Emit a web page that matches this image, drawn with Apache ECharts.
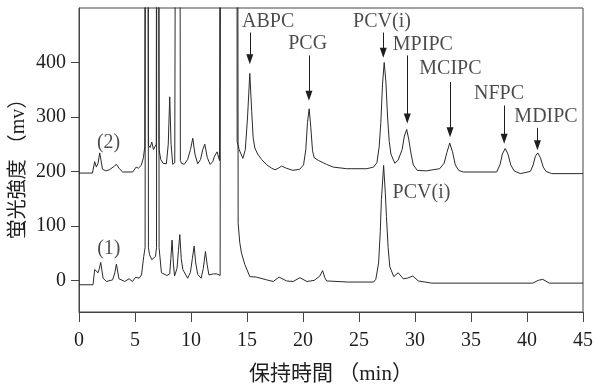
<!DOCTYPE html>
<html>
<head>
<meta charset="utf-8">
<script src="https://cdn.jsdelivr.net/npm/echarts@6/dist/echarts.min.js"></script>
<style>
  html, body { margin: 0; padding: 0; background: #fff; }
  #chart { width: 594px; height: 389px; }
</style>
</head>
<body>
<div id="chart"></div>
<script>
// 保持時間 (min) / 蛍光強度 (mv)
const yTickValues = [0, 100, 200, 300, 400]

// (1) 下側クロマトグラム
const trace1 = [
  [0, -8], [1.25, -8], [1.4, 20], [1.55, 23], [1.7, 14], [1.82, 22], [1.94, 33], [2.15, 4],
  [2.45, -2], [3.0, 1], [3.2, 14], [3.34, 30], [3.57, 3], [4.08, -2], [4.47, 3], [4.77, -2],
  [5.07, 6], [5.37, 4], [5.58, 10], [5.78, 44], [5.9, 60], [6.05, 3000], [6.2, 60], [6.3, 47],
  [6.5, 38], [6.62, 41], [6.83, 44], [6.92, 60], [7.03, 3000], [7.15, 60], [7.36, 14],
  [7.85, 9], [8.1, 12], [8.2, 40], [8.31, 74], [8.43, 30], [8.53, 8], [8.75, 22], [8.88, 55],
  [9.0, 84], [9.13, 40], [9.27, 20], [9.7, 4], [9.95, 15], [10.12, 40], [10.28, 63],
  [10.42, 32], [10.6, 11], [10.9, 4], [11.1, 22], [11.29, 53], [11.45, 28], [11.6, 10],
  [12.0, 12], [12.3, 12], [12.6, 9], [12.72, 10], [12.75, 3000], [14.05, 3000], [14.21, 105],
  [14.35, 70], [14.51, 50], [14.81, 29], [15.25, 7], [15.85, 6], [16.75, 1], [17.34, -2],
  [17.87, 6], [18.53, -1], [19.12, -2], [19.72, 5], [20.35, -2], [21.0, 0], [21.5, 8],
  [21.75, 18], [21.95, 5], [22.11, -1], [24, -3], [26.3, -3], [26.5, 2], [26.75, 32],
  [26.9, 90], [27.0, 148], [27.2, 211], [27.35, 160], [27.45, 117], [27.6, 60], [27.75, 25],
  [28.1, 7], [28.5, 14], [28.95, 3], [29.3, 4], [29.8, 8], [30.3, -1], [31.5, -5],
  [40.5, -5], [41.0, 0], [41.4, 2], [42.0, -5], [45, -5]
]

// (2) 上側クロマトグラム
const trace2 = [
  [0, 197], [1.2, 197], [1.4, 218], [1.55, 208], [1.7, 215], [1.85, 234], [2.1, 204],
  [2.4, 201], [2.7, 203], [3.05, 208], [3.35, 213], [3.6, 205], [3.9, 199], [4.8, 199],
  [5.1, 208], [5.3, 206], [5.55, 211], [5.75, 225], [5.87, 245], [6.05, 3000], [6.2, 248],
  [6.35, 244], [6.5, 254], [6.65, 240], [6.9, 250], [7.03, 3000], [7.15, 240], [7.3, 222],
  [7.5, 215], [7.8, 214], [7.97, 250], [8.1, 337], [8.22, 250], [8.37, 213], [8.55, 216],
  [8.7, 216], [8.87, 3000], [9.05, 220], [9.15, 215], [9.4, 213], [9.7, 222], [9.95, 240],
  [10.16, 261], [10.35, 232], [10.6, 214], [10.85, 222], [11.05, 240], [11.23, 250],
  [11.45, 226], [11.7, 213], [11.95, 218], [12.1, 228], [12.33, 236], [12.55, 220],
  [12.72, 218], [12.75, 3000], [14.05, 3000], [14.12, 255], [14.3, 240], [14.63, 224],
  [14.85, 240], [15.05, 300], [15.25, 380], [15.42, 310], [15.55, 262], [15.7, 243],
  [15.95, 232], [16.3, 222], [16.77, 212], [17.2, 206], [17.5, 203], [17.8, 206], [18.1, 210],
  [18.5, 206], [19.1, 202], [19.7, 204], [20.05, 212], [20.25, 240], [20.4, 290], [20.55, 315],
  [20.7, 280], [20.85, 238], [21.0, 225], [21.4, 220], [21.8, 216], [22.1, 213], [22.7, 208],
  [23.9, 205], [25.7, 205], [26.3, 208], [26.6, 216], [26.8, 245], [26.95, 290], [27.1, 360],
  [27.25, 400], [27.4, 365], [27.55, 300], [27.7, 255], [27.85, 232], [28.2, 215], [28.5, 221],
  [28.85, 240], [29.05, 265], [29.26, 277], [29.45, 258], [29.65, 232], [29.85, 212],
  [30.2, 202], [31, 201], [32.2, 205], [32.6, 215], [32.85, 235], [33.1, 252], [33.35, 236],
  [33.6, 212], [33.9, 202], [34.3, 199], [37.3, 199], [37.6, 213], [37.8, 232], [38.05, 242],
  [38.3, 232], [38.55, 212], [38.85, 201], [39.4, 196], [40.3, 200], [40.55, 212], [40.75, 228],
  [40.96, 234], [41.2, 225], [41.45, 208], [41.7, 200], [42.2, 196], [45, 196]
]

// ピーク名と矢印
const peakNames = ['ABPC', 'PCG', 'PCV(i)', 'MPIPC', 'MCIPC', 'NFPC', 'MDIPC']
const peakLabelX = [16.89, 20.42, 27.05, 30.7, 33.16, 37.5, 41.7]
const peakLabelY = [475, 435, 475, 433, 388, 342, 301]
const arrowX = [15.25, 20.53, 27.17, 29.31, 33.13, 37.96, 40.93]
const arrowTop = [455, 413, 455, 413, 364, 321, 280]
const arrowEnd = [406, 339, 418, 297, 272, 260, 248]

// その他の注記
const noteNames = ['(2)', '(1)', 'PCV(i)']
const noteX = [2.64, 2.66, 30.58]
const noteY = [253, 58, 160]

const serif = '"Liberation Serif", "Noto Sans CJK JP", serif'
const ink = '#1e1e1e'

const chart = echarts.init(document.getElementById('chart'))

const labelData = peakNames.map((n, i) => [peakLabelX[i], peakLabelY[i], n])
  .concat(noteNames.map((n, i) => [noteX[i], noteY[i], n]))

const arrows = arrowX.map((x, i) => [
  { coord: [x, arrowTop[i]] },
  { coord: [x, arrowEnd[i]] },
])

chart.setOption({
  animation: false,
  grid: {
    left: 79, right: 11, top: 8, bottom: 77,
    outerBoundsMode: 'none',
    show: true, borderColor: '#444', borderWidth: 1,
  },
  // 縦軸タイトル
  graphic: [{
    type: 'text',
    x: 19, y: 164,
    rotation: Math.PI / 2,
    silent: true,
    style: {
      text: '蛍光強度 （mv）',
      font: '20px ' + serif,
      fill: ink,
      align: 'center',
      verticalAlign: 'middle',
    },
  }],
  xAxis: {
    type: 'value',
    min: 0, max: 45, interval: 5,
    name: '保持時間 （min）',
    nameLocation: 'middle',
    nameGap: 52,
    nameTextStyle: { fontFamily: serif, fontSize: 21, color: ink },
    axisLine: { onZero: false, lineStyle: { color: '#444', width: 1 } },
    axisTick: { length: 10, lineStyle: { color: '#444' } },
    axisLabel: { margin: 19, fontFamily: serif, fontSize: 20, color: ink },
    splitLine: { show: false },
  },
  yAxis: {
    type: 'value',
    min: -58, max: 500,
    axisLine: { show: true, onZero: false, lineStyle: { color: '#444', width: 1 } },
    axisTick: { length: 8, customValues: yTickValues, lineStyle: { color: '#444' } },
    axisLabel: { margin: 13, customValues: yTickValues, fontFamily: serif, fontSize: 20, color: ink },
    splitLine: { show: false },
  },
  series: [
    {
      name: '(1)',
      type: 'line',
      data: trace1,
      showSymbol: false,
      clip: true,
      lineStyle: { color: '#2a2a2a', width: 1 },
    },
    {
      name: '(2)',
      type: 'line',
      data: trace2,
      showSymbol: false,
      clip: true,
      lineStyle: { color: '#2a2a2a', width: 1 },
      markLine: {
        silent: true,
        symbol: ['none', 'triangle'],
        symbolSize: [7, 10],
        label: { show: false },
        lineStyle: { color: '#1e1e1e', width: 1, type: 'solid' },
        emphasis: { disabled: true },
        data: arrows,
      },
    },
    {
      type: 'scatter',
      silent: true,
      symbolSize: 0,
      data: labelData,
      z: 5,
      label: {
        show: true,
        position: 'inside',
        formatter: p => p.data[2],
        fontFamily: serif,
        fontSize: 20,
        color: ink,
      },
    },
  ],
})
</script>
</body>
</html>
